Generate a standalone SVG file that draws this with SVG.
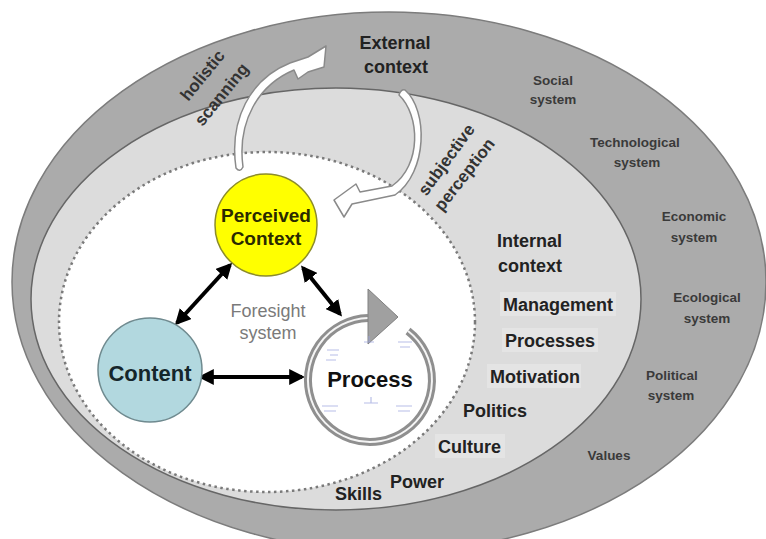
<svg xmlns="http://www.w3.org/2000/svg" width="766" height="539" viewBox="0 0 766 539">
  <style>
    text { font-family: "Liberation Sans", Arial, sans-serif; }
    .lbl { font-weight: bold; font-size: 18px; fill: #222; }
    .sys { font-weight: bold; font-size: 13.5px; fill: #3a3a3a; text-anchor: middle; }
    .rot { font-weight: bold; font-size: 17px; fill: #333; text-anchor: middle; }
    .arr { stroke: #000; stroke-width: 4; fill: none; }
    .block { fill: #fff; stroke: #8a8a8a; stroke-width: 1.5; stroke-linejoin: round; }
    .hl { fill: #e4e4e4; }
    .flow { stroke: #9aa4dd; stroke-width: 1.2; fill: none; opacity: 0.7; }
  </style>
  <defs>
    <marker id="ah" viewBox="0 0 10 10" refX="8" refY="5" markerWidth="4" markerHeight="4" orient="auto-start-reverse" markerUnits="strokeWidth">
      <path d="M0,0 L10,5 L0,10 Z" fill="#000"/>
    </marker>
  </defs>

  <rect width="766" height="539" fill="#fff"/>

  <!-- external context ring -->
  <g id="external-context">
    <ellipse cx="389" cy="282" rx="377" ry="270" fill="#ababab" stroke="#7c7c7c" stroke-width="1.5"/>
    <text class="lbl" x="395" y="49" text-anchor="middle">External</text>
    <text class="lbl" x="396" y="73" text-anchor="middle">context</text>
    <text class="sys" x="553" y="85">Social</text>
    <text class="sys" x="553" y="104">system</text>
    <text class="sys" x="635" y="147">Technological</text>
    <text class="sys" x="637" y="167">system</text>
    <text class="sys" x="694" y="221">Economic</text>
    <text class="sys" x="694" y="242">system</text>
    <text class="sys" x="707" y="302">Ecological</text>
    <text class="sys" x="707" y="323">system</text>
    <text class="sys" x="672" y="380">Political</text>
    <text class="sys" x="671" y="400">system</text>
    <text class="sys" x="609" y="460">Values</text>
  </g>

  <!-- internal context ring -->
  <g id="internal-context">
    <ellipse cx="336" cy="299" rx="305" ry="211" fill="#dcdcdc" stroke="#666" stroke-width="1.5"/>
    <text class="lbl" x="497" y="247">Internal</text>
    <text class="lbl" x="498" y="272">context</text>
    <rect class="hl" x="500" y="292" width="116" height="24"/>
    <rect class="hl" x="502" y="328" width="96" height="24"/>
    <rect class="hl" x="487" y="364" width="94" height="24"/>
    <rect class="hl" x="435" y="434" width="70" height="24"/>
    <text class="lbl" x="503" y="311">Management</text>
    <text class="lbl" x="505" y="347">Processes</text>
    <text class="lbl" x="490" y="383">Motivation</text>
    <text class="lbl" x="463" y="417">Politics</text>
    <text class="lbl" x="438" y="453">Culture</text>
    <text class="lbl" x="390" y="488">Power</text>
    <text class="lbl" x="335" y="500">Skills</text>
  </g>

  <!-- foresight system boundary -->
  <g id="foresight-system">
    <ellipse cx="267" cy="322" rx="208" ry="170" fill="#fff" stroke="#7a7a7a" stroke-width="2.5" stroke-dasharray="2.5 3.5"/>
    <text x="268" y="317" text-anchor="middle" font-size="18" fill="#7a7a7a">Foresight</text>
    <text x="268" y="339" text-anchor="middle" font-size="18" fill="#7a7a7a">system</text>
  </g>

  <!-- scanning and perception arrows -->
  <g id="holistic-scanning">
    <path class="block" d="M236,168 C229,120 250,79 290,63 L308,57 L326,46 L324,67 L308,72 L298,79 L294,70 C258,85 237,122 243,167 Q240,173 236,168 Z"/>
    <text class="rot" transform="translate(207,79) rotate(-51)">holistic</text>
    <text class="rot" transform="translate(226,98) rotate(-51)">scanning</text>
  </g>
  <g id="subjective-perception">
    <path class="block" d="M399,95 C420,115 422,165 392,186 L360,192 L356,184 L334,200 L344,217 L352,204 L395,195 C428,172 428,110 405,90 Q401,89 399,95 Z"/>
    <text class="rot" transform="translate(451,163) rotate(-54)">subjective</text>
    <text class="rot" transform="translate(469,178) rotate(-52)">perception</text>
  </g>

  <!-- two-way links between the foresight elements -->
  <g id="connectors">
    <line class="arr" x1="230" y1="265" x2="177" y2="323" marker-start="url(#ah)" marker-end="url(#ah)"/>
    <line class="arr" x1="303" y1="268" x2="340" y2="314" marker-start="url(#ah)" marker-end="url(#ah)"/>
    <line class="arr" x1="201" y1="377" x2="302" y2="377" marker-start="url(#ah)" marker-end="url(#ah)"/>
  </g>

  <g id="perceived-context">
    <circle cx="266" cy="225" r="51" fill="#ffff00" stroke="#8c8c2a" stroke-width="1.5"/>
    <text x="266" y="222" text-anchor="middle" font-size="19" font-weight="bold" fill="#2a2a00">Perceived</text>
    <text x="266" y="245" text-anchor="middle" font-size="19" font-weight="bold" fill="#2a2a00">Context</text>
  </g>

  <g id="content">
    <circle cx="150" cy="370" r="52" fill="#b2d8df" stroke="#6f8a8f" stroke-width="1.5"/>
    <text x="150" y="381" text-anchor="middle" font-size="22" font-weight="bold" fill="#15262b">Content</text>
  </g>

  <g id="process">
    <!-- circular cycle arrow -->
    <path d="M408,331 A62,62 0 1 1 368,318" fill="none" stroke="#8f8f8f" stroke-width="8"/>
    <path d="M408,331 A62,62 0 1 1 368,318" fill="none" stroke="#f4f4f4" stroke-width="2"/>
    <path d="M368,289 L398,317 L368,344 Z" fill="#a0a0a0" stroke="#808080" stroke-width="1"/>
    <!-- small flow sketch inside the cycle -->
    <g class="flow">
      <path d="M327,350 h12 M330,355 h8 M364,342 h10 M369,336 v6 M398,342 h14 M400,347 h10"/>
      <path d="M326,360 h10 M322,406 h16 M324,411 h12 M364,403 h14 M371,397 v6 M396,406 h16 M398,411 h12"/>
    </g>
    <text x="370" y="387" text-anchor="middle" font-size="22" font-weight="bold" fill="#111">Process</text>
  </g>
</svg>
